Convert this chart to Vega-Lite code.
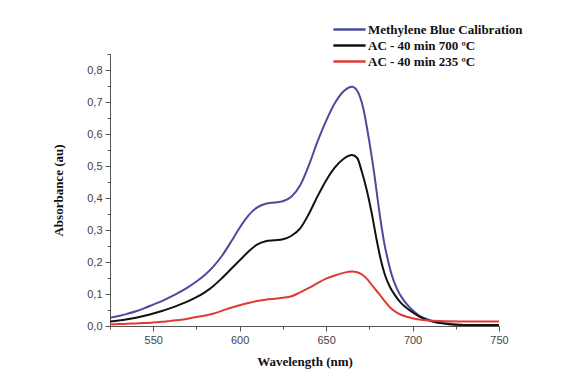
{
  "$schema": "https://vega.github.io/schema/vega-lite/v6.json",
  "width": 389,
  "height": 272,
  "autosize": {"type": "none"},
  "padding": {"left": 110, "top": 54, "right": 74, "bottom": 59},
  "background": "white",
  "config": {
    "view": {"stroke": null},
    "axis": {
      "labelFont": "Liberation Sans",
      "labelFontSize": 11,
      "labelColor": "#444444",
      "titleFont": "Liberation Serif",
      "titleFontSize": 13,
      "titleFontWeight": "bold",
      "titleColor": "#111111",
      "domainColor": "#555555",
      "tickColor": "#555555",
      "grid": false
    }
  },
  "datasets": {
    "spectra": [
      {"wl": 525, "abs": 0.026, "series": "Methylene Blue Calibration"},
      {"wl": 530, "abs": 0.031, "series": "Methylene Blue Calibration"},
      {"wl": 535, "abs": 0.038, "series": "Methylene Blue Calibration"},
      {"wl": 540, "abs": 0.046, "series": "Methylene Blue Calibration"},
      {"wl": 545, "abs": 0.056, "series": "Methylene Blue Calibration"},
      {"wl": 550, "abs": 0.067, "series": "Methylene Blue Calibration"},
      {"wl": 555, "abs": 0.078, "series": "Methylene Blue Calibration"},
      {"wl": 560, "abs": 0.091, "series": "Methylene Blue Calibration"},
      {"wl": 565, "abs": 0.105, "series": "Methylene Blue Calibration"},
      {"wl": 570, "abs": 0.121, "series": "Methylene Blue Calibration"},
      {"wl": 575, "abs": 0.139, "series": "Methylene Blue Calibration"},
      {"wl": 580, "abs": 0.160, "series": "Methylene Blue Calibration"},
      {"wl": 585, "abs": 0.187, "series": "Methylene Blue Calibration"},
      {"wl": 590, "abs": 0.221, "series": "Methylene Blue Calibration"},
      {"wl": 595, "abs": 0.263, "series": "Methylene Blue Calibration"},
      {"wl": 600, "abs": 0.307, "series": "Methylene Blue Calibration"},
      {"wl": 605, "abs": 0.345, "series": "Methylene Blue Calibration"},
      {"wl": 610, "abs": 0.370, "series": "Methylene Blue Calibration"},
      {"wl": 615, "abs": 0.382, "series": "Methylene Blue Calibration"},
      {"wl": 620, "abs": 0.386, "series": "Methylene Blue Calibration"},
      {"wl": 625, "abs": 0.390, "series": "Methylene Blue Calibration"},
      {"wl": 630, "abs": 0.405, "series": "Methylene Blue Calibration"},
      {"wl": 635, "abs": 0.440, "series": "Methylene Blue Calibration"},
      {"wl": 640, "abs": 0.502, "series": "Methylene Blue Calibration"},
      {"wl": 645, "abs": 0.576, "series": "Methylene Blue Calibration"},
      {"wl": 650, "abs": 0.641, "series": "Methylene Blue Calibration"},
      {"wl": 655, "abs": 0.696, "series": "Methylene Blue Calibration"},
      {"wl": 660, "abs": 0.733, "series": "Methylene Blue Calibration"},
      {"wl": 665, "abs": 0.748, "series": "Methylene Blue Calibration"},
      {"wl": 668, "abs": 0.735, "series": "Methylene Blue Calibration"},
      {"wl": 671.5, "abs": 0.680, "series": "Methylene Blue Calibration"},
      {"wl": 675, "abs": 0.576, "series": "Methylene Blue Calibration"},
      {"wl": 678, "abs": 0.470, "series": "Methylene Blue Calibration"},
      {"wl": 680.5, "abs": 0.368, "series": "Methylene Blue Calibration"},
      {"wl": 683.5, "abs": 0.263, "series": "Methylene Blue Calibration"},
      {"wl": 686, "abs": 0.200, "series": "Methylene Blue Calibration"},
      {"wl": 688, "abs": 0.159, "series": "Methylene Blue Calibration"},
      {"wl": 691, "abs": 0.116, "series": "Methylene Blue Calibration"},
      {"wl": 694, "abs": 0.087, "series": "Methylene Blue Calibration"},
      {"wl": 697, "abs": 0.066, "series": "Methylene Blue Calibration"},
      {"wl": 700, "abs": 0.049, "series": "Methylene Blue Calibration"},
      {"wl": 704, "abs": 0.032, "series": "Methylene Blue Calibration"},
      {"wl": 708, "abs": 0.022, "series": "Methylene Blue Calibration"},
      {"wl": 712, "abs": 0.015, "series": "Methylene Blue Calibration"},
      {"wl": 716, "abs": 0.011, "series": "Methylene Blue Calibration"},
      {"wl": 720, "abs": 0.008, "series": "Methylene Blue Calibration"},
      {"wl": 725, "abs": 0.005, "series": "Methylene Blue Calibration"},
      {"wl": 735, "abs": 0.003, "series": "Methylene Blue Calibration"},
      {"wl": 750, "abs": 0.003, "series": "Methylene Blue Calibration"},

      {"wl": 525, "abs": 0.014, "series": "AC - 40 min 700 ºC"},
      {"wl": 530, "abs": 0.017, "series": "AC - 40 min 700 ºC"},
      {"wl": 535, "abs": 0.021, "series": "AC - 40 min 700 ºC"},
      {"wl": 540, "abs": 0.026, "series": "AC - 40 min 700 ºC"},
      {"wl": 545, "abs": 0.032, "series": "AC - 40 min 700 ºC"},
      {"wl": 550, "abs": 0.039, "series": "AC - 40 min 700 ºC"},
      {"wl": 555, "abs": 0.047, "series": "AC - 40 min 700 ºC"},
      {"wl": 560, "abs": 0.056, "series": "AC - 40 min 700 ºC"},
      {"wl": 565, "abs": 0.066, "series": "AC - 40 min 700 ºC"},
      {"wl": 570, "abs": 0.077, "series": "AC - 40 min 700 ºC"},
      {"wl": 575, "abs": 0.090, "series": "AC - 40 min 700 ºC"},
      {"wl": 580, "abs": 0.106, "series": "AC - 40 min 700 ºC"},
      {"wl": 585, "abs": 0.126, "series": "AC - 40 min 700 ºC"},
      {"wl": 590, "abs": 0.151, "series": "AC - 40 min 700 ºC"},
      {"wl": 595, "abs": 0.178, "series": "AC - 40 min 700 ºC"},
      {"wl": 600, "abs": 0.205, "series": "AC - 40 min 700 ºC"},
      {"wl": 605, "abs": 0.232, "series": "AC - 40 min 700 ºC"},
      {"wl": 610, "abs": 0.254, "series": "AC - 40 min 700 ºC"},
      {"wl": 615, "abs": 0.265, "series": "AC - 40 min 700 ºC"},
      {"wl": 620, "abs": 0.268, "series": "AC - 40 min 700 ºC"},
      {"wl": 625, "abs": 0.271, "series": "AC - 40 min 700 ºC"},
      {"wl": 630, "abs": 0.282, "series": "AC - 40 min 700 ºC"},
      {"wl": 635, "abs": 0.305, "series": "AC - 40 min 700 ºC"},
      {"wl": 640, "abs": 0.350, "series": "AC - 40 min 700 ºC"},
      {"wl": 645, "abs": 0.405, "series": "AC - 40 min 700 ºC"},
      {"wl": 650, "abs": 0.455, "series": "AC - 40 min 700 ºC"},
      {"wl": 655, "abs": 0.495, "series": "AC - 40 min 700 ºC"},
      {"wl": 660, "abs": 0.522, "series": "AC - 40 min 700 ºC"},
      {"wl": 665, "abs": 0.534, "series": "AC - 40 min 700 ºC"},
      {"wl": 668, "abs": 0.525, "series": "AC - 40 min 700 ºC"},
      {"wl": 670.5, "abs": 0.485, "series": "AC - 40 min 700 ºC"},
      {"wl": 673.5, "abs": 0.425, "series": "AC - 40 min 700 ºC"},
      {"wl": 676.3, "abs": 0.355, "series": "AC - 40 min 700 ºC"},
      {"wl": 679.2, "abs": 0.270, "series": "AC - 40 min 700 ºC"},
      {"wl": 681.5, "abs": 0.210, "series": "AC - 40 min 700 ºC"},
      {"wl": 684, "abs": 0.160, "series": "AC - 40 min 700 ºC"},
      {"wl": 687, "abs": 0.121, "series": "AC - 40 min 700 ºC"},
      {"wl": 690, "abs": 0.095, "series": "AC - 40 min 700 ºC"},
      {"wl": 693, "abs": 0.074, "series": "AC - 40 min 700 ºC"},
      {"wl": 696.6, "abs": 0.056, "series": "AC - 40 min 700 ºC"},
      {"wl": 700, "abs": 0.043, "series": "AC - 40 min 700 ºC"},
      {"wl": 704, "abs": 0.029, "series": "AC - 40 min 700 ºC"},
      {"wl": 708, "abs": 0.020, "series": "AC - 40 min 700 ºC"},
      {"wl": 712, "abs": 0.013, "series": "AC - 40 min 700 ºC"},
      {"wl": 716, "abs": 0.009, "series": "AC - 40 min 700 ºC"},
      {"wl": 720, "abs": 0.006, "series": "AC - 40 min 700 ºC"},
      {"wl": 725, "abs": 0.004, "series": "AC - 40 min 700 ºC"},
      {"wl": 735, "abs": 0.003, "series": "AC - 40 min 700 ºC"},
      {"wl": 750, "abs": 0.003, "series": "AC - 40 min 700 ºC"},

      {"wl": 525, "abs": 0.005, "series": "AC - 40 min 235 ºC"},
      {"wl": 530, "abs": 0.006, "series": "AC - 40 min 235 ºC"},
      {"wl": 535, "abs": 0.007, "series": "AC - 40 min 235 ºC"},
      {"wl": 540, "abs": 0.008, "series": "AC - 40 min 235 ºC"},
      {"wl": 545, "abs": 0.009, "series": "AC - 40 min 235 ºC"},
      {"wl": 550, "abs": 0.011, "series": "AC - 40 min 235 ºC"},
      {"wl": 555, "abs": 0.013, "series": "AC - 40 min 235 ºC"},
      {"wl": 560, "abs": 0.016, "series": "AC - 40 min 235 ºC"},
      {"wl": 565, "abs": 0.019, "series": "AC - 40 min 235 ºC"},
      {"wl": 570, "abs": 0.023, "series": "AC - 40 min 235 ºC"},
      {"wl": 575, "abs": 0.028, "series": "AC - 40 min 235 ºC"},
      {"wl": 580, "abs": 0.033, "series": "AC - 40 min 235 ºC"},
      {"wl": 585, "abs": 0.039, "series": "AC - 40 min 235 ºC"},
      {"wl": 590, "abs": 0.048, "series": "AC - 40 min 235 ºC"},
      {"wl": 595, "abs": 0.057, "series": "AC - 40 min 235 ºC"},
      {"wl": 600, "abs": 0.065, "series": "AC - 40 min 235 ºC"},
      {"wl": 605, "abs": 0.072, "series": "AC - 40 min 235 ºC"},
      {"wl": 610, "abs": 0.078, "series": "AC - 40 min 235 ºC"},
      {"wl": 615, "abs": 0.082, "series": "AC - 40 min 235 ºC"},
      {"wl": 620, "abs": 0.085, "series": "AC - 40 min 235 ºC"},
      {"wl": 625, "abs": 0.088, "series": "AC - 40 min 235 ºC"},
      {"wl": 630, "abs": 0.093, "series": "AC - 40 min 235 ºC"},
      {"wl": 635, "abs": 0.105, "series": "AC - 40 min 235 ºC"},
      {"wl": 640, "abs": 0.119, "series": "AC - 40 min 235 ºC"},
      {"wl": 645, "abs": 0.134, "series": "AC - 40 min 235 ºC"},
      {"wl": 650, "abs": 0.148, "series": "AC - 40 min 235 ºC"},
      {"wl": 655, "abs": 0.158, "series": "AC - 40 min 235 ºC"},
      {"wl": 660, "abs": 0.166, "series": "AC - 40 min 235 ºC"},
      {"wl": 665, "abs": 0.170, "series": "AC - 40 min 235 ºC"},
      {"wl": 668, "abs": 0.168, "series": "AC - 40 min 235 ºC"},
      {"wl": 671, "abs": 0.160, "series": "AC - 40 min 235 ºC"},
      {"wl": 674, "abs": 0.145, "series": "AC - 40 min 235 ºC"},
      {"wl": 677.3, "abs": 0.122, "series": "AC - 40 min 235 ºC"},
      {"wl": 681, "abs": 0.098, "series": "AC - 40 min 235 ºC"},
      {"wl": 684, "abs": 0.077, "series": "AC - 40 min 235 ºC"},
      {"wl": 687, "abs": 0.058, "series": "AC - 40 min 235 ºC"},
      {"wl": 690, "abs": 0.045, "series": "AC - 40 min 235 ºC"},
      {"wl": 693, "abs": 0.036, "series": "AC - 40 min 235 ºC"},
      {"wl": 696.6, "abs": 0.029, "series": "AC - 40 min 235 ºC"},
      {"wl": 700, "abs": 0.024, "series": "AC - 40 min 235 ºC"},
      {"wl": 704, "abs": 0.020, "series": "AC - 40 min 235 ºC"},
      {"wl": 710, "abs": 0.017, "series": "AC - 40 min 235 ºC"},
      {"wl": 720, "abs": 0.015, "series": "AC - 40 min 235 ºC"},
      {"wl": 735, "abs": 0.014, "series": "AC - 40 min 235 ºC"},
      {"wl": 750, "abs": 0.014, "series": "AC - 40 min 235 ºC"}
    ]
  },
  "data": {"name": "spectra"},
  "mark": {"type": "line", "strokeWidth": 2, "interpolate": "monotone", "clip": true},
  "encoding": {
    "x": {
      "field": "wl",
      "type": "quantitative",
      "title": "Wavelength (nm)",
      "scale": {"domain": [525, 750], "nice": false, "zero": false},
      "axis": {
        "values": [525, 550, 575, 600, 625, 650, 675, 700, 725, 750],
        "labelExpr": "datum.value % 50 === 0 ? datum.label : ''",
        "tickSize": {"condition": {"test": "datum.value % 50 === 0", "value": 5}, "value": 3},
        "labelPadding": 3,
        "titlePadding": 10,
        "labelFlush": false
      }
    },
    "y": {
      "field": "abs",
      "type": "quantitative",
      "title": "Absorbance (au)",
      "scale": {"domain": [0, 0.85], "nice": false},
      "axis": {
        "values": [0, 0.05, 0.1, 0.15, 0.2, 0.25, 0.3, 0.35, 0.4, 0.45, 0.5, 0.55, 0.6, 0.65, 0.7, 0.75, 0.8, 0.85],
        "labelExpr": "round(datum.value * 100) % 10 === 0 ? replace(format(datum.value, '.1f'), '.', ',') : ''",
        "tickSize": {"condition": {"test": "round(datum.value * 100) % 10 === 0", "value": 5}, "value": 3},
        "labelPadding": 3,
        "titlePadding": 21,
        "labelFlush": false
      }
    },
    "color": {
      "field": "series",
      "type": "nominal",
      "scale": {
        "domain": ["Methylene Blue Calibration", "AC - 40 min 700 ºC", "AC - 40 min 235 ºC"],
        "range": ["#4b4a9c", "#111111", "#e03a36"]
      },
      "legend": {
        "title": null,
        "orient": "none",
        "legendX": 231,
        "legendY": -33,
        "symbolType": "M-2.3,0H2.3",
        "symbolSize": 196,
        "symbolStrokeWidth": 2.5,
        "labelFont": "Liberation Serif",
        "labelFontSize": 13,
        "labelFontWeight": "bold",
        "labelColor": "#111111",
        "labelOffset": 10,
        "rowPadding": 0,
        "labelLimit": 300
      }
    }
  }
}
